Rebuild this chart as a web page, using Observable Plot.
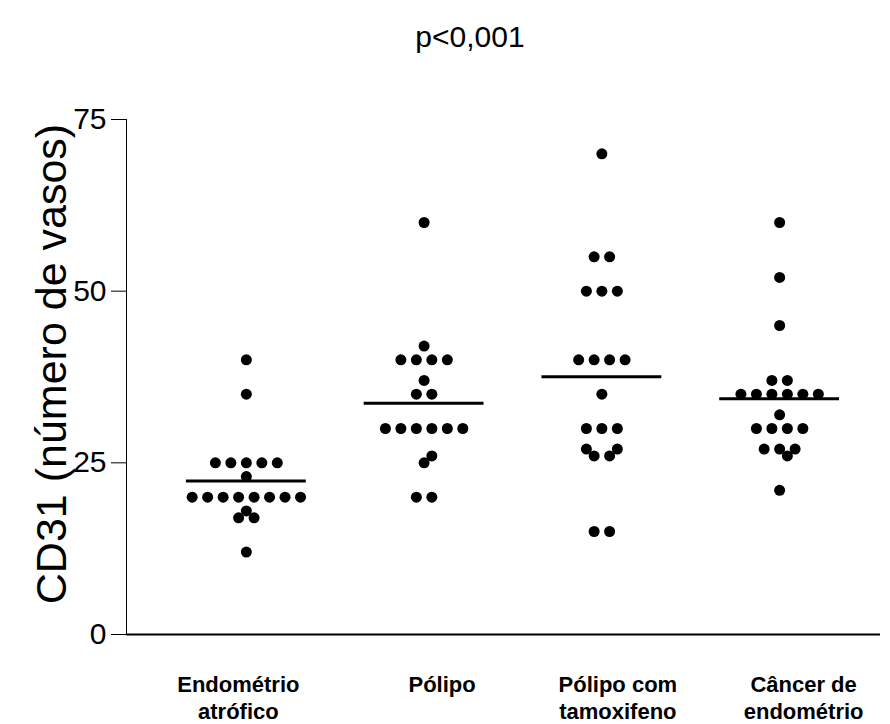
<!DOCTYPE html>
<html>
<head>
<meta charset="utf-8">
<script src="https://cdn.jsdelivr.net/npm/d3@7"></script>
<script src="https://cdn.jsdelivr.net/npm/@observablehq/plot@0.6"></script>
<style>
  html, body { margin: 0; padding: 0; background: #fff; }
  body { width: 890px; height: 724px; overflow: hidden; font-family: "Liberation Sans", Arial, sans-serif; }
  #title { height: 70px; box-sizing: border-box; padding-left: 50px; padding-top: 19px; text-align: center; font-size: 30px; line-height: 36px; color: #000; }
</style>
</head>
<body>
<div id="title">p&lt;0,001</div>
<div id="chart"></div>
<script>
// ---- data ----
const categories = ["Endométrio\natrófico", "Pólipo", "Pólipo com\ntamoxifeno", "Câncer de\nendométrio"];
const atrofico = [40, 35, 25, 25, 25, 25, 25, 23, 20, 20, 20, 20, 20, 20, 20, 20, 18, 17, 17, 12];
const polipo = [60, 42, 40, 40, 40, 40, 37, 35, 35, 30, 30, 30, 30, 30, 30, 26, 25, 20, 20];
const polipoTamoxifeno = [70, 55, 55, 50, 50, 50, 40, 40, 40, 40, 35, 30, 30, 30, 27, 27, 26, 26, 15, 15];
const cancer = [60, 52, 45, 37, 37, 35, 35, 35, 35, 35, 35, 32, 30, 30, 30, 30, 27, 27, 27, 26, 21];
const yTicks = [0, 25, 50, 75];
const yLabel = "CD31 (número de vasos)";

// ---- layout helpers (column scatter arrangement) ----
const pxPerCat = 178, pxPerY = 515 / 75, slotPx = 15.5, minDist = 10;
const labelShiftPx = [-8, 18, 16, 24];
const groups = [atrofico, polipo, polipoTamoxifeno, cancer];

function swarm(values) {
  const counts = d3.rollup(values, v => v.length, d => d);
  const rows = Array.from(counts, ([v, k]) => ({v, k})).sort((a, b) => b.k - a.k || a.v - b.v);
  const placed = [];
  const collides = (s, v) => placed.some(p => Math.hypot((s - p.s) * slotPx, (v - p.v) * pxPerY) < minDist);
  for (const {v, k} of rows) {
    for (let j = 0; j < k; j++) {
      const ideal = j - (k - 1) / 2;
      const dir = ideal >= 0 ? 1 : -1;
      let s = ideal;
      for (let t = 0; t < 20; t += 0.5) {
        if (!collides(ideal + dir * t, v)) { s = ideal + dir * t; break; }
        if (!collides(ideal - dir * t, v)) { s = ideal - dir * t; break; }
      }
      placed.push({v, s});
    }
  }
  return placed;
}

const points = groups.flatMap((vals, gi) =>
  swarm(vals).map(p => ({group: gi, value: p.v, x: gi + p.s * slotPx / pxPerCat}))
);
const means = groups.map((vals, gi) => ({group: gi, mean: d3.mean(vals)}));
const halfLine = 60 / pxPerCat;
const xDomain = [-120 / pxPerCat, 3 + 101 / pxPerCat];

const chart = Plot.plot({
  width: 890,
  height: 654,
  marginTop: 49,
  marginBottom: 90,
  marginLeft: 126,
  marginRight: 10,
  style: {fontFamily: "'Liberation Sans', Arial, sans-serif", fontSize: "30px", color: "#000", background: "#fff", overflow: "visible"},
  x: {type: "linear", domain: xDomain, axis: null},
  y: {domain: [0, 75], ticks: yTicks, tickSize: 15, tickPadding: 5, label: null, line: true, tickFormat: d => String(d)},
  marks: [
    Plot.ruleY([0], {stroke: "#000", strokeWidth: 2}),
    Plot.ruleY(means, {y: "mean", x1: d => d.group - halfLine, x2: d => d.group + halfLine, stroke: "#000", strokeWidth: 3}),
    Plot.dot(points, {x: "x", y: "value", r: 5.5, fill: "#000", stroke: "none"}),
    Plot.text(categories, {x: (d, i) => i + labelShiftPx[i] / pxPerCat, frameAnchor: "bottom", text: d => d, lineAnchor: "top", textAnchor: "middle", dy: 39, fontSize: 22, fontWeight: "bold", lineHeight: 1.2}),
    Plot.text([yLabel], {frameAnchor: "left", text: d => d, rotate: -90, textAnchor: "middle", dx: -74, dy: -13, fontSize: 43})
  ]
});
document.getElementById("chart").appendChild(chart);
</script>
</body>
</html>
